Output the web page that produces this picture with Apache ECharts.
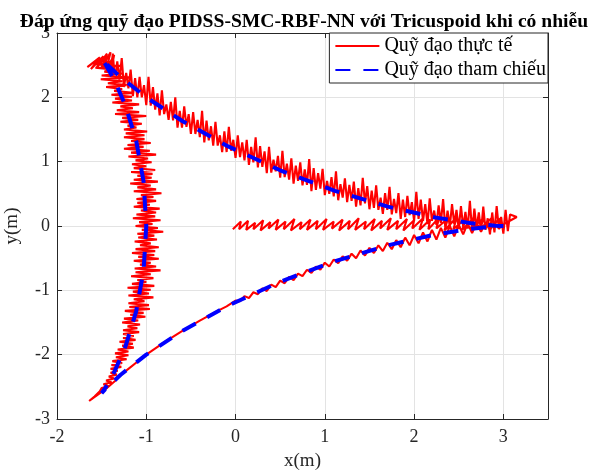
<!DOCTYPE html>
<html>
<head>
<meta charset="utf-8">
<script src="https://cdn.jsdelivr.net/npm/echarts@6/dist/echarts.min.js"></script>
<style>
html, body { margin: 0; padding: 0; background: #fff; }
#chart { width: 600px; height: 472px; }
</style>
</head>
<body>
<div id="chart"></div>
<script>
var xTicks = [-2, -1, 0, 1, 2, 3];
var yTicks = [-3, -2, -1, 0, 1, 2, 3];

// quỹ đạo tham chiếu (tricuspoid)
var refCurve = [
    [3, 0], [2.909, 0.005], [2.645, 0.041], [2.232, 0.134], [1.706, 0.301], [1.112, 0.547],
    [0.5, 0.866], [-0.082, 1.237], [-0.592, 1.628], [-1, 2], [-1.287, 2.312], [-1.45, 2.522],
    [-1.5, 2.598], [-1.459, 2.517], [-1.358, 2.27], [-1.232, 1.866], [-1.113, 1.327], [-1.03, 0.689],
    [-1, 0], [-1.03, -0.689], [-1.113, -1.327], [-1.232, -1.866], [-1.358, -2.27], [-1.459, -2.517],
    [-1.5, -2.598], [-1.45, -2.522], [-1.287, -2.312], [-1, -2], [-0.592, -1.628], [-0.082, -1.237],
    [0.5, -0.866], [1.112, -0.547], [1.706, -0.301], [2.232, -0.134], [2.645, -0.041], [2.909, -0.005],
    [3, 0]
];

// quỹ đạo thực tế: đoạn đầu từ gốc tọa độ
var redStart = [
    [-0.03, -0.05], [0.06, 0.07], [0.04, -0.05], [0.14, 0.08], [0.12, -0.06], [0.22, 0.05],
    [0.2, -0.05], [0.31, 0.09], [0.28, -0.07], [0.39, 0.06], [0.37, -0.04], [0.48, 0.1],
    [0.45, -0.06], [0.56, 0.07], [0.54, -0.05], [0.66, 0.11], [0.62, -0.07], [0.74, 0.06],
    [0.72, -0.05], [0.84, 0.1], [0.8, -0.06], [0.92, 0.08], [0.9, -0.05], [1.02, 0.11],
    [0.98, -0.06], [1.1, 0.07], [1.08, -0.04], [1.2, 0.1], [1.16, -0.07], [1.28, 0.08],
    [1.26, -0.05], [1.38, 0.12], [1.34, -0.06], [1.46, 0.07], [1.44, -0.05], [1.56, 0.11],
    [1.52, -0.07], [1.64, 0.08], [1.62, -0.04], [1.74, 0.12], [1.7, -0.06], [1.82, 0.08],
    [1.8, -0.05], [1.92, 0.11], [1.88, -0.07], [2.0, 0.09], [1.98, -0.04], [2.1, 0.12],
    [2.06, -0.06], [2.18, 0.1], [2.16, -0.05], [2.28, 0.13], [2.25, -0.04], [2.38, 0.12],
    [2.34, -0.07], [2.48, 0.14], [2.44, -0.05], [2.58, 0.12], [2.54, -0.06], [2.68, 0.15],
    [2.64, -0.04], [2.78, 0.12], [2.74, -0.05], [2.88, 0.14], [2.84, -0.03], [2.98, 0.13],
    [2.94, -0.02], [3.15, 0.14]
];

// nhánh trên (từ mũi phải lên góc trái trên)
var redUpper = [
    [3.075, 0.18], [3.05, -0.08], [3.025, 0.25], [3.0, -0.12], [2.975, 0.14], [2.95, -0.05],
    [2.925, 0.31], [2.9, -0.1], [2.875, 0.21], [2.85, -0.13], [2.825, 0.12], [2.8, -0.06],
    [2.775, 0.3], [2.75, -0.09], [2.725, 0.21], [2.7, -0.03], [2.675, 0.27], [2.65, -0.09],
    [2.625, 0.39], [2.6, -0.04], [2.575, 0.22], [2.55, -0.02], [2.525, 0.31], [2.5, -0.05],
    [2.475, 0.25], [2.45, 0.03], [2.425, 0.34], [2.4, -0.01], [2.375, 0.24], [2.35, -0.04],
    [2.325, 0.42], [2.3, 0.05], [2.275, 0.32], [2.25, 0.02], [2.225, 0.24], [2.2, 0.08],
    [2.175, 0.43], [2.15, 0.03], [2.125, 0.34], [2.1, 0.08], [2.075, 0.41], [2.05, 0.11],
    [2.025, 0.53], [2.0, 0.08], [1.975, 0.37], [1.95, 0.17], [1.925, 0.47], [1.9, 0.14],
    [1.875, 0.41], [1.85, 0.11], [1.825, 0.51], [1.8, 0.2], [1.775, 0.42], [1.75, 0.18],
    [1.725, 0.61], [1.7, 0.25], [1.675, 0.51], [1.65, 0.19], [1.625, 0.44], [1.6, 0.25],
    [1.575, 0.63], [1.55, 0.28], [1.525, 0.55], [1.5, 0.26], [1.475, 0.62], [1.45, 0.35],
    [1.425, 0.75], [1.4, 0.32], [1.375, 0.59], [1.35, 0.3], [1.325, 0.69], [1.3, 0.39],
    [1.275, 0.64], [1.25, 0.37], [1.225, 0.74], [1.2, 0.44], [1.175, 0.65], [1.15, 0.4],
    [1.125, 0.85], [1.1, 0.46], [1.075, 0.76], [1.05, 0.5], [1.025, 0.7], [1.0, 0.48],
    [0.975, 0.89], [0.95, 0.58], [0.925, 0.82], [0.9, 0.56], [0.875, 0.9], [0.85, 0.54],
    [0.825, 1.04], [0.8, 0.64], [0.775, 0.88], [0.75, 0.63], [0.725, 0.99], [0.7, 0.7],
    [0.675, 0.94], [0.65, 0.66], [0.625, 1.05], [0.6, 0.72], [0.575, 0.97], [0.55, 0.76],
    [0.525, 1.17], [0.5, 0.75], [0.475, 1.09], [0.45, 0.85], [0.425, 1.03], [0.4, 0.83],
    [0.375, 1.23], [0.35, 0.82], [0.325, 1.16], [0.3, 0.92], [0.275, 1.24], [0.25, 0.91],
    [0.225, 1.38], [0.2, 0.99], [0.175, 1.23], [0.15, 0.95], [0.125, 1.34], [0.1, 1.02],
    [0.075, 1.3], [0.05, 1.07], [0.025, 1.41], [0.0, 1.06], [-0.025, 1.34], [-0.05, 1.17],
    [-0.075, 1.54], [-0.1, 1.15], [-0.125, 1.47], [-0.15, 1.15], [-0.175, 1.41], [-0.2, 1.25],
    [-0.225, 1.62], [-0.25, 1.25], [-0.275, 1.55], [-0.3, 1.33], [-0.325, 1.64], [-0.35, 1.3],
    [-0.375, 1.79], [-0.4, 1.38], [-0.425, 1.65], [-0.45, 1.43], [-0.475, 1.77], [-0.5, 1.43],
    [-0.525, 1.74], [-0.55, 1.54], [-0.575, 1.86], [-0.6, 1.53], [-0.625, 1.79], [-0.65, 1.53],
    [-0.675, 2.0], [-0.7, 1.64], [-0.725, 1.93], [-0.75, 1.65], [-0.775, 1.89], [-0.8, 1.74],
    [-0.825, 2.11], [-0.85, 1.72], [-0.875, 2.06], [-0.9, 1.81], [-0.925, 2.16], [-0.95, 1.87],
    [-0.975, 2.32], [-1.0, 1.88], [-1.025, 2.19], [-1.05, 2.0], [-1.075, 2.32], [-1.1, 2.0],
    [-1.125, 2.3], [-1.15, 2.02], [-1.175, 2.43], [-1.2, 2.14], [-1.225, 2.38], [-1.25, 2.16],
    [-1.275, 2.61], [-1.3, 2.27], [-1.325, 2.56], [-1.35, 2.26], [-1.375, 2.68], [-1.4, 2.36],
    [-1.36, 2.66], [-1.45, 2.42], [-1.4, 2.7], [-1.5, 2.46], [-1.44, 2.68], [-1.56, 2.45],
    [-1.48, 2.64], [-1.62, 2.44], [-1.52, 2.62], [-1.66, 2.47], [-1.55, 2.58]
];

// nhánh trái (từ trên xuống)
var redLeft = [
    [-1.38, 2.55], [-1.56, 2.52], [-1.29, 2.49], [-1.57, 2.46], [-1.35, 2.43], [-1.47, 2.4],
    [-1.27, 2.37], [-1.5, 2.34], [-1.19, 2.31], [-1.51, 2.28], [-1.27, 2.25], [-1.43, 2.22],
    [-1.22, 2.19], [-1.45, 2.16], [-1.27, 2.13], [-1.36, 2.1], [-1.15, 2.07], [-1.39, 2.04],
    [-1.16, 2.01], [-1.35, 1.98], [-1.16, 1.95], [-1.38, 1.92], [-1.08, 1.89], [-1.29, 1.86],
    [-1.15, 1.83], [-1.33, 1.8], [-1.08, 1.77], [-1.35, 1.74], [-1.0, 1.71], [-1.27, 1.68],
    [-1.09, 1.65], [-1.29, 1.62], [-1.05, 1.59], [-1.21, 1.56], [-1.11, 1.53], [-1.25, 1.5],
    [-0.99, 1.47], [-1.23, 1.44], [-1.02, 1.41], [-1.25, 1.38], [-1.02, 1.35], [-1.17, 1.32],
    [-0.95, 1.29], [-1.21, 1.26], [-1.03, 1.23], [-1.25, 1.2], [-0.96, 1.17], [-1.17, 1.14],
    [-0.89, 1.11], [-1.2, 1.08], [-0.98, 1.05], [-1.12, 1.02], [-0.94, 0.99], [-1.16, 0.96],
    [-1.0, 0.93], [-1.14, 0.9], [-0.9, 0.87], [-1.17, 0.84], [-0.93, 0.81], [-1.1, 0.78],
    [-0.94, 0.75], [-1.14, 0.72], [-0.87, 0.69], [-1.18, 0.66], [-0.95, 0.63], [-1.1, 0.6],
    [-0.89, 0.57], [-1.14, 0.54], [-0.83, 0.51], [-1.06, 0.48], [-0.92, 0.45], [-1.11, 0.42],
    [-0.89, 0.39], [-1.1, 0.36], [-0.96, 0.33], [-1.14, 0.3], [-0.85, 0.27], [-1.06, 0.24],
    [-0.89, 0.21], [-1.11, 0.18], [-0.9, 0.15], [-1.15, 0.12], [-0.84, 0.09], [-1.08, 0.06],
    [-0.93, 0.03], [-1.12, 0.0], [-0.87, -0.03], [-1.05, -0.06], [-0.81, -0.09], [-1.1, -0.12],
    [-0.91, -0.15], [-1.09, -0.18], [-0.88, -0.21], [-1.13, -0.24], [-0.95, -0.27], [-1.07, -0.3],
    [-0.86, -0.33], [-1.12, -0.36], [-0.9, -0.39], [-1.16, -0.42], [-0.91, -0.45], [-1.09, -0.48],
    [-0.86, -0.51], [-1.14, -0.54], [-0.95, -0.57], [-1.07, -0.6], [-0.89, -0.63], [-1.13, -0.66],
    [-0.84, -0.69], [-1.12, -0.72], [-0.95, -0.75], [-1.17, -0.78], [-0.92, -0.81], [-1.1, -0.84],
    [-1.0, -0.87], [-1.16, -0.9], [-0.91, -0.93], [-1.21, -0.96], [-0.95, -0.99], [-1.15, -1.02],
    [-0.97, -1.05], [-1.2, -1.08], [-0.92, -1.11], [-1.14, -1.14], [-1.02, -1.17], [-1.2, -1.2],
    [-0.97, -1.23], [-1.19, -1.26], [-0.96, -1.29], [-1.24, -1.32], [-1.03, -1.35], [-1.18, -1.38],
    [-1.01, -1.41], [-1.25, -1.44], [-1.09, -1.47], [-1.27, -1.5], [-1.07, -1.53], [-1.21, -1.56],
    [-1.1, -1.59], [-1.26, -1.62], [-1.08, -1.65], [-1.26, -1.68], [-1.14, -1.71], [-1.26, -1.74],
    [-1.12, -1.77], [-1.3, -1.8], [-1.15, -1.83], [-1.27, -1.86], [-1.14, -1.89], [-1.32, -1.92],
    [-1.2, -1.95], [-1.35, -1.98], [-1.2, -2.01], [-1.34, -2.04], [-1.22, -2.07], [-1.38, -2.1],
    [-1.27, -2.13], [-1.39, -2.16], [-1.28, -2.19], [-1.4, -2.22], [-1.32, -2.25], [-1.4, -2.28],
    [-1.33, -2.31], [-1.42, -2.34], [-1.36, -2.37], [-1.45, -2.4], [-1.39, -2.43], [-1.48, -2.46],
    [-1.42, -2.49], [-1.5, -2.52], [-1.52, -2.57], [-1.58, -2.65], [-1.64, -2.72]
];

// nhánh dưới (từ mũi trái dưới về mũi phải)
var redLower = [
    [-1.55, -2.63], [-1.45, -2.53], [-1.35, -2.41], [-1.29, -2.32], [-1.2, -2.22], [-1.1, -2.11],
    [-1.0, -2.0], [-0.8, -1.81], [-0.6, -1.635], [-0.4, -1.47], [-0.2, -1.32], [-0.1, -1.25],
    [0.0, -1.16], [0.05, -1.17], [0.1, -1.09], [0.15, -1.12], [0.2, -1.03], [0.25, -1.06],
    [0.3, -0.97], [0.35, -1.01], [0.4, -0.91], [0.45, -0.95], [0.5, -0.85], [0.55, -0.89],
    [0.6, -0.79], [0.65, -0.84], [0.7, -0.74], [0.75, -0.78], [0.8, -0.68], [0.85, -0.73],
    [0.9, -0.63], [0.95, -0.68], [1.0, -0.57], [1.05, -0.63], [1.1, -0.52], [1.15, -0.58],
    [1.2, -0.47], [1.25, -0.54], [1.3, -0.43], [1.35, -0.5], [1.4, -0.38], [1.45, -0.46],
    [1.5, -0.34], [1.55, -0.42], [1.6, -0.3], [1.65, -0.39], [1.7, -0.26], [1.75, -0.36],
    [1.8, -0.22], [1.85, -0.33], [1.9, -0.18], [1.95, -0.3], [2.0, -0.14], [2.05, -0.27],
    [2.1, -0.1], [2.15, -0.24], [2.2, -0.06], [2.25, -0.21], [2.3, -0.03], [2.35, -0.18],
    [2.4, 0.0], [2.45, -0.16], [2.5, 0.02], [2.55, -0.13], [2.6, 0.04], [2.65, -0.11],
    [2.7, 0.05], [2.75, -0.09], [2.8, 0.06], [2.85, -0.07], [2.9, 0.06], [2.95, -0.04],
    [3.0, 0.02]
];

var trajectory = redStart.concat(redUpper, redLeft, redLower);

var FONT = '"Liberation Serif", "Times New Roman", serif';
var AXIS_COLOR = '#262626';
var GRID_COLOR = '#e3e3e3';

var dom = document.getElementById('chart');
var chart = echarts.init(dom, null, { renderer: 'canvas' });

function tickLabel(v) {
    return Number.isInteger(v) ? String(v) : '';
}

var option = {
    animation: false,
    backgroundColor: '#fff',
    title: {
        text: 'Đáp ứng quỹ đạo PIDSS-SMC-RBF-NN với Tricuspoid khi có nhiễu',
        left: 299,
        textAlign: 'center',
        top: 7,
        textStyle: { fontFamily: FONT, fontWeight: 'bold', fontSize: 19.6, color: '#000' }
    },
    legend: {
        orient: 'vertical',
        right: 52,
        top: 33,
        itemWidth: 44,
        itemHeight: 14,
        itemGap: 4,
        padding: [3, 2, 3, 5],
        backgroundColor: '#fff',
        borderColor: AXIS_COLOR,
        borderWidth: 1,
        borderRadius: 0,
        itemStyle: { opacity: 0 },
        textStyle: { fontFamily: FONT, fontSize: 20, lineHeight: 20, color: '#000' },
        data: ['Quỹ đạo thực tế', 'Quỹ đạo tham chiếu']
    },
    grid: { left: 57, right: 52, top: 33, bottom: 53, containLabel: false, outerBoundsMode: 'none' },
    xAxis: [
        {
            type: 'value', min: -2, max: 3.5, interval: 1, position: 'bottom',
            name: 'x(m)', nameLocation: 'middle', nameGap: 33,
            nameTextStyle: { fontFamily: FONT, fontSize: 19, color: AXIS_COLOR },
            axisLine: { show: true, onZero: false, lineStyle: { color: AXIS_COLOR, width: 1 } },
            axisTick: { show: true, inside: true, length: 5, lineStyle: { color: AXIS_COLOR } },
            axisLabel: { formatter: tickLabel, fontFamily: FONT, fontSize: 18, color: AXIS_COLOR, margin: 9 },
            splitLine: { show: true, lineStyle: { color: GRID_COLOR, width: 1 } }
        },
        {
            type: 'value', min: -2, max: 3.5, interval: 1, position: 'top',
            axisLine: { show: true, onZero: false, lineStyle: { color: AXIS_COLOR, width: 1 } },
            axisTick: { show: true, inside: true, length: 5, lineStyle: { color: AXIS_COLOR } },
            axisLabel: { show: false },
            splitLine: { show: false }
        }
    ],
    yAxis: [
        {
            type: 'value', min: -3, max: 3, interval: 1, position: 'left',
            name: 'y(m)', nameLocation: 'middle', nameGap: 35,
            nameTextStyle: { fontFamily: FONT, fontSize: 19, color: AXIS_COLOR },
            axisLine: { show: true, onZero: false, lineStyle: { color: AXIS_COLOR, width: 1 } },
            axisTick: { show: true, inside: true, length: 5, lineStyle: { color: AXIS_COLOR } },
            axisLabel: { fontFamily: FONT, fontSize: 18, color: AXIS_COLOR, margin: 7 },
            splitLine: { show: true, lineStyle: { color: GRID_COLOR, width: 1 } }
        },
        {
            type: 'value', min: -3, max: 3, interval: 1, position: 'right',
            axisLine: { show: true, onZero: false, lineStyle: { color: AXIS_COLOR, width: 1 } },
            axisTick: { show: true, inside: true, length: 5, lineStyle: { color: AXIS_COLOR } },
            axisLabel: { show: false },
            splitLine: { show: false }
        }
    ],
    series: [
        {
            name: 'Quỹ đạo thực tế',
            type: 'line',
            data: trajectory,
            showSymbol: false,
            symbol: 'none',
            color: '#ff0000',
            lineStyle: { color: '#ff0000', width: 2.1 },
            z: 2
        },
        {
            name: 'Quỹ đạo tham chiếu',
            type: 'line',
            data: refCurve,
            showSymbol: false,
            symbol: 'none',
            color: '#0000ff',
            lineStyle: { color: '#0000ff', width: 4, type: [15, 13] },
            z: 3
        }
    ]
};

if (option && typeof option === 'object') {
    chart.setOption(option, true);
}
</script>
</body>
</html>
